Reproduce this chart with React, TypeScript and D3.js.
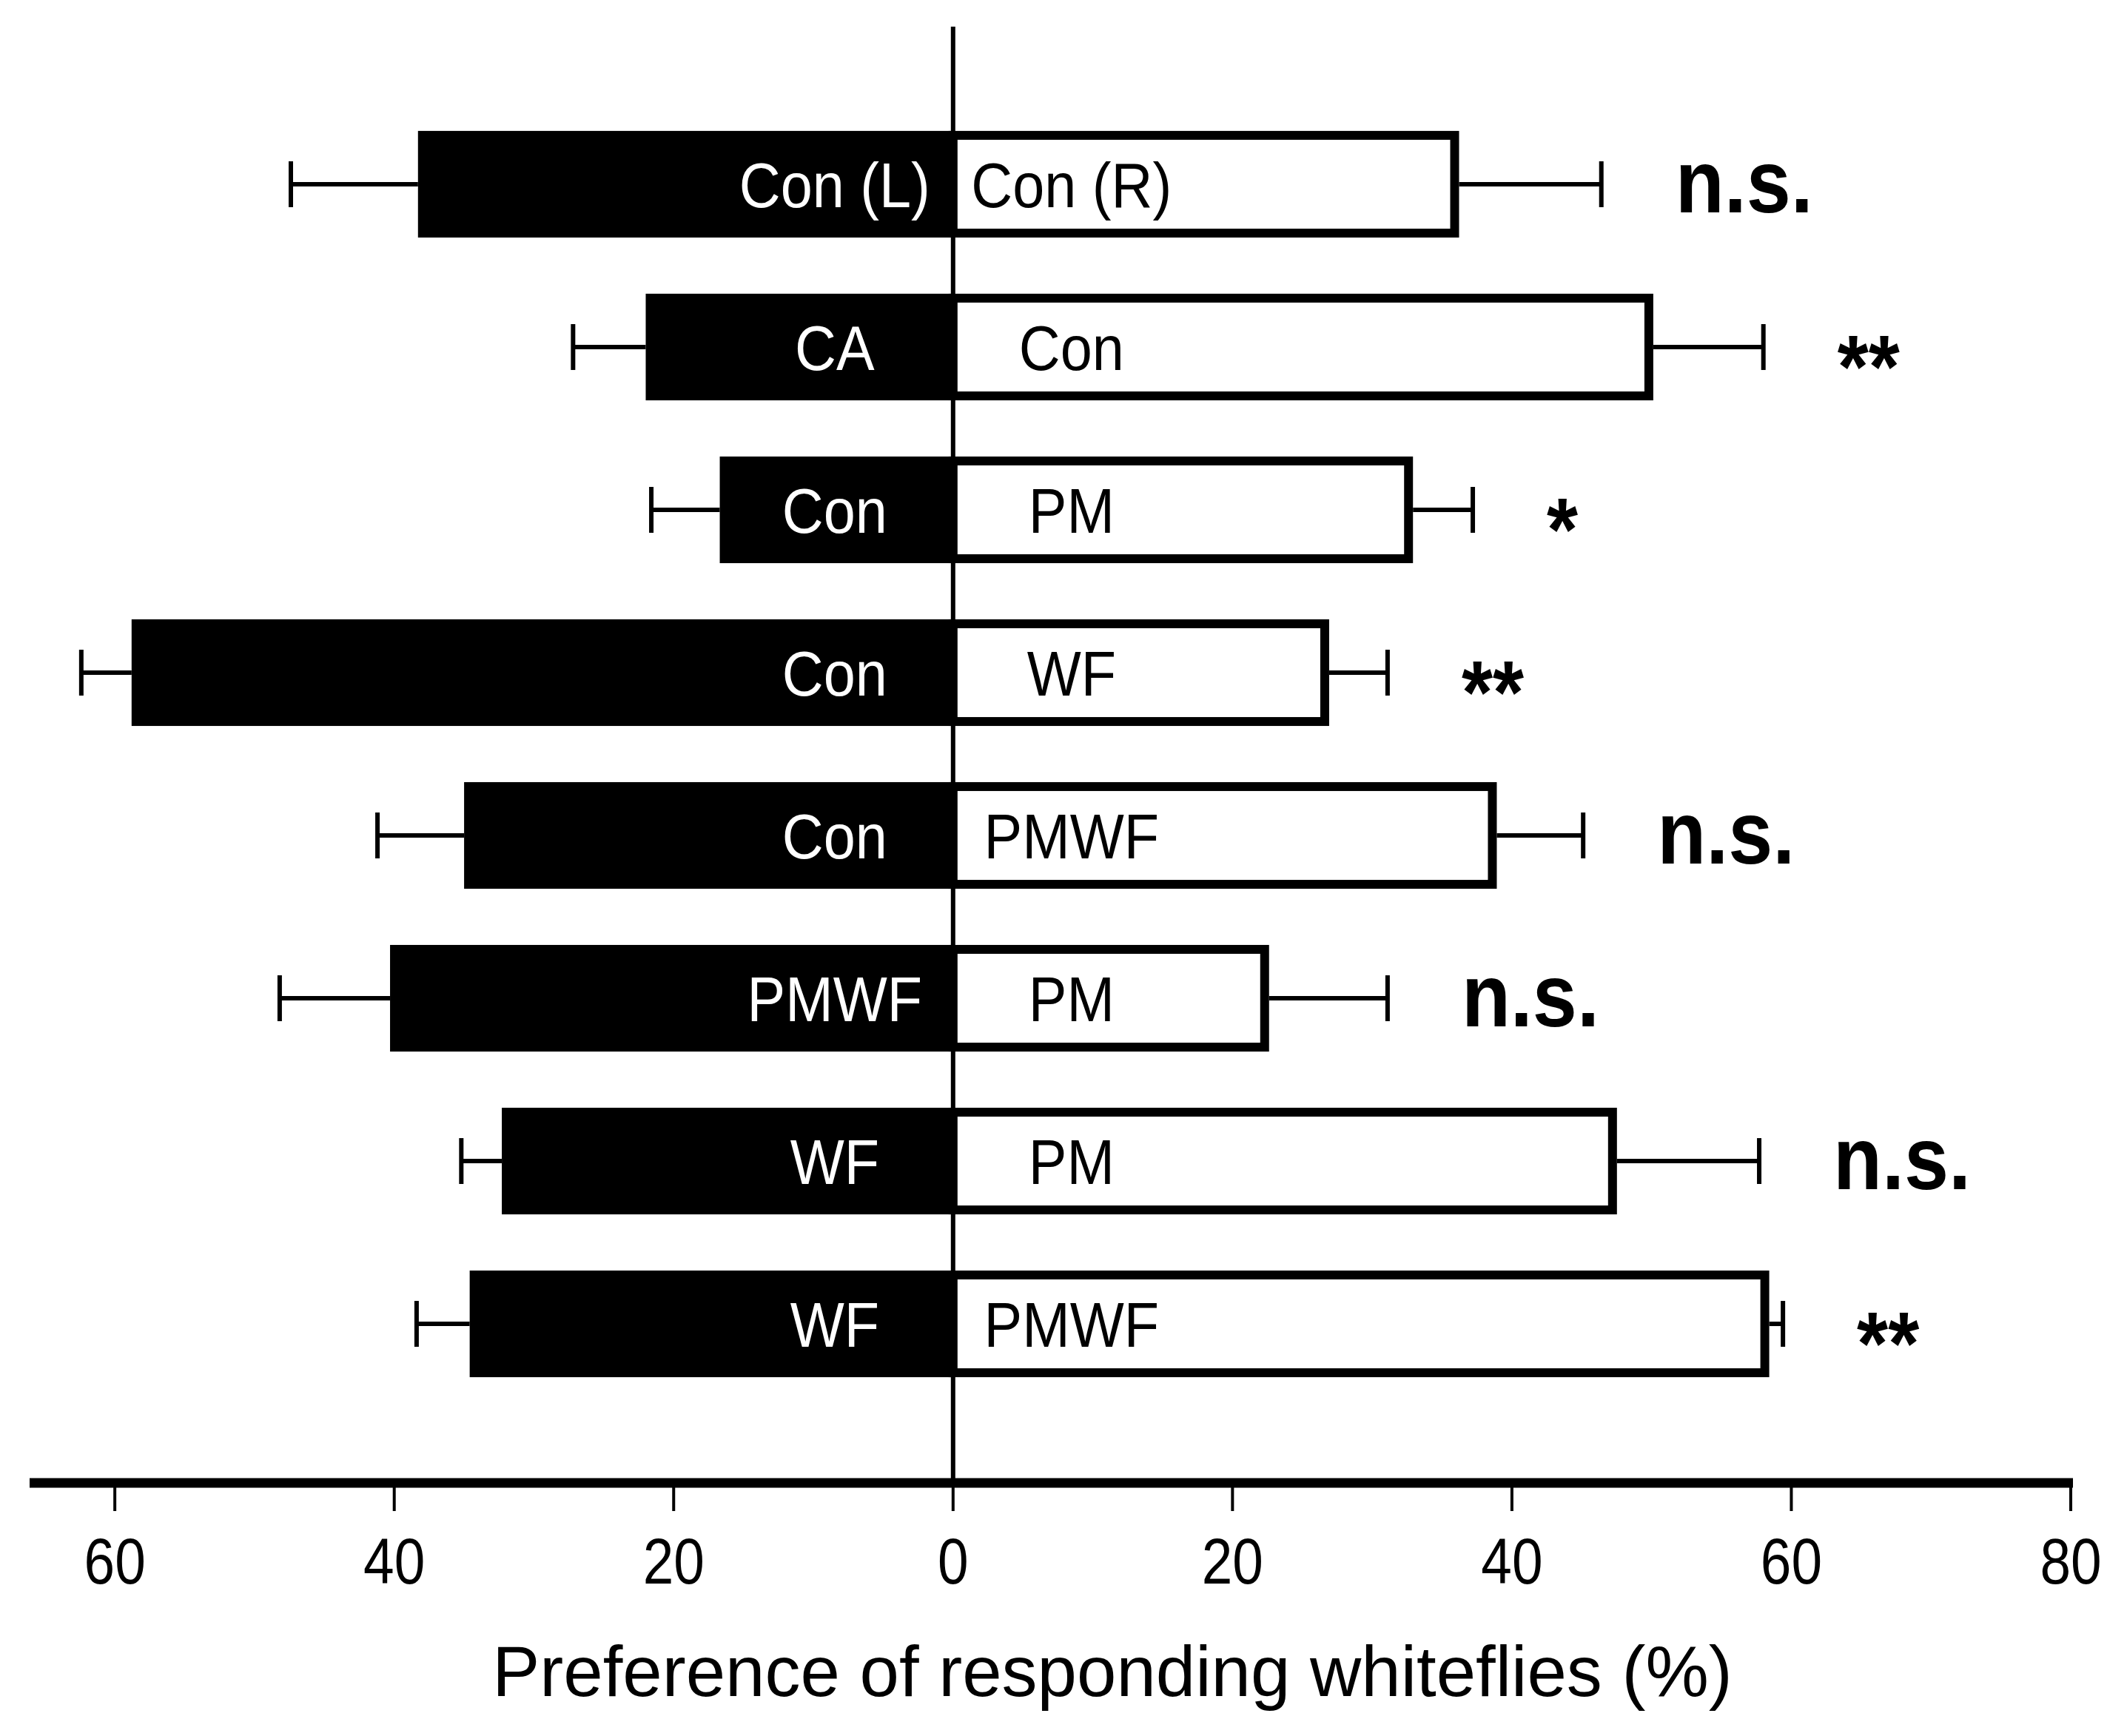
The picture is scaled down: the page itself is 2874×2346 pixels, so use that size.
import React from 'react';
import * as d3 from 'd3';

// choice-test pairs, top to bottom
const leftLabels = ['Con (L)', 'CA', 'Con', 'Con', 'Con', 'PMWF', 'WF', 'WF'];
const rightLabels = ['Con (R)', 'Con', 'PM', 'WF', 'PMWF', 'PM', 'PM', 'PMWF'];
const leftMeans = [38.3, 22.0, 16.7, 58.8, 35.0, 40.3, 32.3, 34.6];
const leftErrors = [9.1, 5.2, 4.9, 3.6, 6.2, 7.9, 2.9, 3.8];
const rightMeans = [35.9, 49.8, 32.6, 26.6, 38.6, 22.3, 47.2, 58.1];
const rightErrors = [10.5, 8.2, 4.6, 4.5, 6.5, 8.8, 10.5, 1.3];
const significance = ['n.s.', '**', '*', '**', 'n.s.', 'n.s.', 'n.s.', '**'];
const tickValues = [-60, -40, -20, 0, 20, 40, 60, 80];
const xTitle = 'Preference of responding whiteflies (%)';

const W = 2874;
const H = 2346;
const FONT = '"Liberation Sans", Arial, sans-serif';

const App = () => {
  const x = d3.scaleLinear().domain([-66.1, 80]).range([40, 2798]);
  const y = d3
    .scaleBand<number>()
    .domain(d3.range(leftLabels.length))
    .range([101, 1937])
    .padding(0.345);

  const axisY = 2004;
  const bw = y.bandwidth();
  const sw = 12; // outline of the open bars
  const cap = 31;

  return (
    <svg
      width={W}
      height={H}
      viewBox={`0 0 ${W} ${H}`}
      style={{ position: 'absolute', left: 0, top: 0, background: '#fff' }}
    >
      {/* zero line */}
      <line x1={x(0)} x2={x(0)} y1={36} y2={axisY} stroke="#000" strokeWidth={6} />

      {leftLabels.map((_, i) => {
        const top = y(i) || 0;
        const cy = top + bw / 2;
        const lEnd = x(-leftMeans[i]);
        const lErr = x(-leftMeans[i] - leftErrors[i]);
        const rEnd = x(rightMeans[i]);
        const rErr = x(rightMeans[i] + rightErrors[i]);
        const sig = significance[i];
        return (
          <g key={i}>
            {/* left error bar */}
            <line x1={lErr} x2={lEnd} y1={cy} y2={cy} stroke="#000" strokeWidth={6} />
            <line x1={lErr} x2={lErr} y1={cy - cap} y2={cy + cap} stroke="#000" strokeWidth={6} />
            <rect x={lEnd} y={top} width={x(0) - lEnd} height={bw} fill="#000" />
            {/* right error bar */}
            <line x1={rEnd + sw / 2} x2={rErr} y1={cy} y2={cy} stroke="#000" strokeWidth={6} />
            <line x1={rErr} x2={rErr} y1={cy - cap} y2={cy + cap} stroke="#000" strokeWidth={6} />
            <rect
              x={x(0)}
              y={top + sw / 2}
              width={rEnd - x(0)}
              height={bw - sw}
              fill="#fff"
              stroke="#000"
              strokeWidth={sw}
            />
            <g transform={`translate(${x(0) - 160},${cy + 31}) scale(0.9,1)`}>
              <text textAnchor="middle" fontFamily={FONT} fontSize={86} fill="#fff">
                {leftLabels[i]}
              </text>
            </g>
            <g transform={`translate(${x(0) + 160},${cy + 31}) scale(0.9,1)`}>
              <text textAnchor="middle" fontFamily={FONT} fontSize={86} fill="#000">
                {rightLabels[i]}
              </text>
            </g>
            <g
              transform={`translate(${rErr + 100},${cy + (sig.includes('*') ? 68 : 38)}) scale(0.9,1)`}
            >
              <text fontFamily={FONT} fontSize={120} fontWeight="bold" fill="#000">
                {sig}
              </text>
            </g>
          </g>
        );
      })}

      {/* x axis */}
      <line x1={40} x2={2801} y1={axisY} y2={axisY} stroke="#000" strokeWidth={13} />
      {tickValues.map((t) => (
        <g key={t}>
          <line x1={x(t)} x2={x(t)} y1={axisY} y2={2042} stroke="#000" strokeWidth={4} />
          <g transform={`translate(${x(t)},2140) scale(0.85,1)`}>
            <text textAnchor="middle" fontFamily={FONT} fontSize={88} fill="#000">
              {Math.abs(t)}
            </text>
          </g>
        </g>
      ))}
      <text
        x={1503}
        y={2292}
        textAnchor="middle"
        fontFamily={FONT}
        fontSize={96}
        fill="#000"
      >
        {xTitle}
      </text>
    </svg>
  );
};

export default App;
